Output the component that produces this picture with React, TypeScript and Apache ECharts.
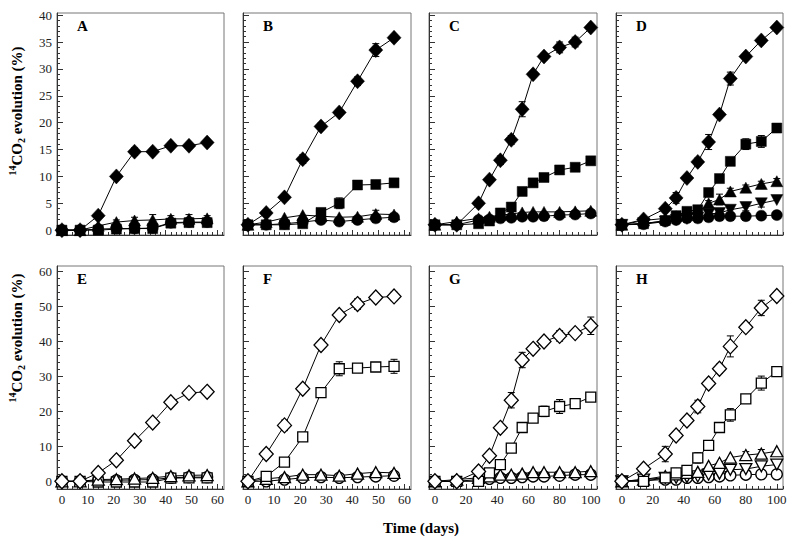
import React, { useEffect, useRef } from 'react';
import * as echarts from 'echarts';

const FONT = "'Liberation Serif', 'Times New Roman', serif";

// ---- time points (days) ----
const tShort = [0, 7, 14, 21, 28, 35, 42, 49, 56];
const tLong = [0, 14, 28, 35, 42, 49, 56, 63, 70, 80, 90, 100];

// ---- tick labels ----
const xShortTicks = [0, 10, 20, 30, 40, 50, 60];
const xLongTicks = [0, 20, 40, 60, 80, 100];
const yTopTicks = [0, 5, 10, 15, 20, 25, 30, 35, 40];
const yBottomTicks = [0, 10, 20, 30, 40, 50, 60];

// ---- Panel A ----
const aDiamond = [0, 0, 2.7, 10, 14.6, 14.6, 15.7, 15.7, 16.3];
const aDiamondErr = [0, 0, 0.4, 0.5, 0.7, 0.4, 0.3, 0.3, 0.3];
const aSquare = [0, 0, 0, 0.2, 0.3, 0.3, 1.3, 1.4, 1.4];
const aTriangle = [0, 0, 0.8, 1.5, 1.8, 1.9, 2.1, 2.1, 2.2];
const aTriangleErr = [0, 0, 0, 0.4, 0.6, 1.0, 0.6, 0.8, 0.5];
const aCircle = [0, 0, 0.2, 0.3, 0.3, 0.4, 1.4, 1.5, 1.5];

// ---- Panel B ----
const bDiamond = [1, 3.2, 6.1, 13.2, 19.3, 21.9, 27.7, 33.5, 35.8];
const bDiamondErr = [0, 0.3, 0.3, 0.8, 0.6, 0.5, 0.8, 1.2, 0.5];
const bSquare = [1, 1, 1, 1.2, 3.3, 5, 8.4, 8.5, 8.8];
const bSquareErr = [0, 0, 0, 0, 0.4, 1.0, 0.3, 0.3, 0.3];
const bTriangle = [1, 1.5, 2.3, 2.8, 2.6, 2.4, 2.5, 3.0, 2.9];
const bTriangleErr = [0, 0, 0, 0, 0, 0, 0, 0.7, 0];
const bCircle = [1, 1, 1.2, 1.5, 1.9, 1.6, 1.9, 2.2, 2.4];

// ---- Panel C ----
const cDiamond = [1, 1, 5, 9.4, 13, 16.8, 22.5, 29, 32.3, 34, 35, 37.7];
const cDiamondErr = [0, 0, 0.5, 0, 0.8, 0.8, 1.4, 0.5, 0.6, 1.0, 0.9, 0.5];
const cSquare = [1, 1, 1.2, 1.7, 3.2, 4.3, 7.2, 8.8, 9.8, 11.2, 11.7, 12.9];
const cSquareErr = [0, 0, 0, 0, 0, 0, 0.6, 0.3, 0.6, 0.5, 0.5, 0.7];
const cTriangle = [1, 1.6, 2.2, 2.5, 2.8, 3, 3.3, 3.4, 3.4, 3.4, 3.5, 3.6];
const cCircle = [1, 1, 1.9, 2, 2.2, 2.3, 2.5, 2.5, 2.6, 2.8, 2.9, 3.1];

// ---- Panel D ----
const dDiamond = [1, 2, 4, 6, 9.7, 12.7, 16.4, 21.5, 28.2, 32.3, 35.3, 37.7];
const dDiamondErr = [0, 0, 0.5, 1.0, 0.5, 0.7, 1.4, 0.6, 1.2, 0.5, 0.5, 0.3];
const dSquare = [1, 1.2, 1.8, 2.7, 3.5, 3.8, 7, 9.6, 12.8, 16, 16.5, 19];
const dSquareErr = [0, 0, 0, 0, 0, 0.5, 0, 0.5, 0.6, 1.0, 1.1, 0.8];
const dTriangle = [1, 1.8, 2.2, 2.6, 2.8, 3.2, 5, 5.7, 7.2, 7.9, 8.6, 9.1];
const dTriangleErr = [0, 0, 0, 0, 0, 0, 0.5, 1.0, 0.6, 0.5, 0.5, 0.5];
const dDown = [1, 1.3, 1.6, 1.9, 2.1, 2.3, 3, 3.2, 3.8, 4.3, 5, 5.6];
const dDownErr = [0, 0, 0, 0, 0, 0, 0, 0, 0.5, 0.7, 0.7, 0];
const dCircle = [1, 1.1, 1.6, 1.9, 2.2, 2.2, 2.4, 2.6, 2.6, 2.6, 2.7, 2.8];

// ---- Panel E ----
const eDiamond = [0, 0, 2.4, 6, 11.6, 16.8, 22.6, 25.3, 25.6];
const eSquare = [0, 0, -0.2, -0.2, -0.2, -0.2, 0.9, 1, 1];
const eTriangle = [0, 0, 0.5, 0.6, 0.8, 1, 1.5, 1.7, 1.8];
const eTriangleErr = [0, 0, 0, 0, 0, 0, 0.5, 0.5, 0.5];
const eCircle = [0, 0, 0.3, 0.3, 0.4, 0.5, 1, 1.2, 1.2];

// ---- Panel F ----
const fDiamond = [0, 7.8, 16, 26.5, 39, 47.6, 50.7, 52.6, 52.9];
const fDiamondErr = [0, 0, 1.5, 0, 0, 0, 1.5, 1.0, 1.2];
const fSquare = [0, 1.4, 5.5, 12.7, 25.4, 32.2, 32.4, 32.7, 32.9];
const fSquareErr = [0, 0, 0, 0, 0, 2.0, 0, 0, 2.0];
const fTriangle = [0, 0.7, 1.2, 1.9, 1.9, 1.6, 2.2, 2.6, 2.4];
const fCircle = [0, 0, 0.5, 1, 1.2, 1, 1.2, 1.4, 1.6];

// ---- Panel G ----
const gDiamond = [0, 0, 2.8, 7.3, 15.3, 23.2, 34.7, 37.9, 40, 41.6, 42.4, 44.5];
const gDiamondErr = [0, 0, 0, 0, 0, 2.2, 2.2, 1.0, 1.0, 1.5, 1.0, 2.5];
const gSquare = [0, 0, 0, 2.4, 4.8, 9.5, 15.4, 18.1, 20, 21.4, 22.2, 24.1];
const gSquareErr = [0, 0, 0, 0, 0, 0, 1.3, 0, 1.5, 2.0, 1.0, 1.2];
const gTriangle = [0, 0.5, 1, 1.4, 1.9, 1.9, 2.2, 2.6, 2.6, 2.6, 2.6, 2.9];
const gCircle = [0, 0, 0.5, 0.7, 1, 1, 1.2, 1.4, 1.4, 1.6, 1.9, 1.9];

// ---- Panel H ----
const hDiamond = [0, 3.6, 7.8, 13.1, 17.4, 21.4, 28, 32.2, 38.6, 44.1, 49.6, 53];
const hDiamondErr = [0, 0, 2.2, 0, 0, 1.8, 0, 1.3, 3.0, 0, 2.2, 1.0];
const hSquare = [0, 0, 1, 2.4, 3.1, 6.7, 10.3, 15.4, 19, 23.6, 28.1, 31.4];
const hSquareErr = [0, 0, 0, 0, 0, 1.5, 0, 0, 1.8, 0, 2.0, 0];
const hTriangle = [0, 0.5, 1.5, 2, 2.4, 2.7, 4.4, 5.3, 6.8, 7.5, 7.9, 8.6];
const hTriangleErr = [0, 0, 0, 0, 0, 0, 0, 0, 0, 1.0, 1.2, 0];
const hDown = [0, 0.5, 1, 1, 1.2, 1.4, 1.9, 2.2, 3.3, 3.5, 4.3, 4.8];
const hDownErr = [0, 0, 0, 0, 0, 0, 0, 0, 0, 0.8, 0, 0];
const hCircle = [0, 0.2, 0.5, 0.5, 1, 1, 1.2, 1.4, 1.7, 1.9, 2.0, 2.0];

type Kind = 'diamond' | 'square' | 'triangle' | 'down' | 'circle';
type Curve = { kind: Kind; values: number[]; err?: number[] };
type Panel = { label: string; t: number[]; curves: Curve[] };

const panels: Panel[] = [
  { label: 'A', t: tShort, curves: [
    { kind: 'circle', values: aCircle },
    { kind: 'square', values: aSquare },
    { kind: 'triangle', values: aTriangle, err: aTriangleErr },
    { kind: 'diamond', values: aDiamond, err: aDiamondErr },
  ] },
  { label: 'B', t: tShort, curves: [
    { kind: 'circle', values: bCircle },
    { kind: 'triangle', values: bTriangle, err: bTriangleErr },
    { kind: 'square', values: bSquare, err: bSquareErr },
    { kind: 'diamond', values: bDiamond, err: bDiamondErr },
  ] },
  { label: 'C', t: tLong, curves: [
    { kind: 'triangle', values: cTriangle },
    { kind: 'circle', values: cCircle },
    { kind: 'square', values: cSquare, err: cSquareErr },
    { kind: 'diamond', values: cDiamond, err: cDiamondErr },
  ] },
  { label: 'D', t: tLong, curves: [
    { kind: 'down', values: dDown, err: dDownErr },
    { kind: 'triangle', values: dTriangle, err: dTriangleErr },
    { kind: 'circle', values: dCircle },
    { kind: 'square', values: dSquare, err: dSquareErr },
    { kind: 'diamond', values: dDiamond, err: dDiamondErr },
  ] },
  { label: 'E', t: tShort, curves: [
    { kind: 'circle', values: eCircle },
    { kind: 'square', values: eSquare },
    { kind: 'triangle', values: eTriangle, err: eTriangleErr },
    { kind: 'diamond', values: eDiamond },
  ] },
  { label: 'F', t: tShort, curves: [
    { kind: 'circle', values: fCircle },
    { kind: 'triangle', values: fTriangle },
    { kind: 'square', values: fSquare, err: fSquareErr },
    { kind: 'diamond', values: fDiamond, err: fDiamondErr },
  ] },
  { label: 'G', t: tLong, curves: [
    { kind: 'circle', values: gCircle },
    { kind: 'triangle', values: gTriangle },
    { kind: 'square', values: gSquare, err: gSquareErr },
    { kind: 'diamond', values: gDiamond, err: gDiamondErr },
  ] },
  { label: 'H', t: tLong, curves: [
    { kind: 'circle', values: hCircle },
    { kind: 'down', values: hDown, err: hDownErr },
    { kind: 'triangle', values: hTriangle, err: hTriangleErr },
    { kind: 'square', values: hSquare, err: hSquareErr },
    { kind: 'diamond', values: hDiamond, err: hDiamondErr },
  ] },
];

// ---- layout ----
const COL_LEFT = [57, 243, 429, 616];
const COL_W = [167, 168, 168, 167];
const ROW_TOP = [13, 266];
const ROW_H = [222, 223];
const X_SHORT_RANGE = [-1.9, 62.5];
const X_LONG_RANGE = [-3.8, 104];
const Y_TOP_RANGE = [-0.9, 40.4];
const Y_BOTTOM_RANGE = [-2.2, 61.6];

function stepTicks(lo: number, hi: number, step: number): number[] {
  const out: number[] = [];
  for (let v = Math.ceil(lo / step) * step; v <= hi + 1e-9; v += step) out.push(Math.round(v * 1000) / 1000);
  return out;
}

const symbolFor: Record<Kind, { symbol: string; size: number | number[]; rotate: number }> = {
  diamond: { symbol: 'diamond', size: [14, 15], rotate: 0 },
  square: { symbol: 'rect', size: 10, rotate: 0 },
  triangle: { symbol: 'triangle', size: [12, 11], rotate: 0 },
  down: { symbol: 'triangle', size: [12, 11], rotate: 180 },
  circle: { symbol: 'circle', size: 11, rotate: 0 },
};

function errorRender(params: any, api: any) {
  const x = api.value(0);
  const lo = api.coord([x, api.value(1)]);
  const hi = api.coord([x, api.value(2)]);
  const w = 3.5;
  const st = { stroke: '#000', lineWidth: 1 };
  return {
    type: 'group',
    children: [
      { type: 'line', shape: { x1: lo[0], y1: lo[1], x2: hi[0], y2: hi[1] }, style: st },
      { type: 'line', shape: { x1: lo[0] - w, y1: lo[1], x2: lo[0] + w, y2: lo[1] }, style: st },
      { type: 'line', shape: { x1: hi[0] - w, y1: hi[1], x2: hi[0] + w, y2: hi[1] }, style: st },
    ],
  };
}

function buildOption() {
  const grids: any[] = [];
  const xAxes: any[] = [];
  const yAxes: any[] = [];
  const series: any[] = [];
  const graphics: any[] = [];

  panels.forEach((p, i) => {
    const row = i < 4 ? 0 : 1;
    const col = i % 4;
    const filled = row === 0;
    const long = p.t === tLong;
    const xr = long ? X_LONG_RANGE : X_SHORT_RANGE;
    const yr = row === 0 ? Y_TOP_RANGE : Y_BOTTOM_RANGE;
    const xMajor = long ? xLongTicks : xShortTicks;
    const xMinor = stepTicks(0, xr[1], long ? 4 : 2);
    const yMajor = row === 0 ? yTopTicks : yBottomTicks;
    const yMinor = stepTicks(0, yr[1], row === 0 ? 1 : 2);

    grids.push({
      left: COL_LEFT[col], top: ROW_TOP[row], width: COL_W[col], height: ROW_H[row],
      show: true, borderColor: '#777', borderWidth: 1, backgroundColor: 'transparent',
    });

    const xi = xAxes.length;
    xAxes.push({
      type: 'value', gridIndex: i, min: xr[0], max: xr[1], position: 'bottom',
      splitLine: { show: false },
      axisLine: { show: true, onZero: false, lineStyle: { color: '#333', width: 1 } },
      axisTick: { show: true, inside: true, length: 5, customValues: xMajor, lineStyle: { color: '#333' } },
      axisLabel: { show: row === 1, customValues: xMajor, margin: 4, fontFamily: FONT, fontSize: 13, color: '#222' },
    });
    xAxes.push({
      type: 'value', gridIndex: i, min: xr[0], max: xr[1], position: 'bottom',
      splitLine: { show: false },
      axisLine: { show: false, onZero: false },
      axisTick: { show: true, inside: true, length: 3, customValues: xMinor, lineStyle: { color: '#333' } },
      axisLabel: { show: false, customValues: xMinor },
    });
    const yi = yAxes.length;
    yAxes.push({
      type: 'value', gridIndex: i, min: yr[0], max: yr[1], position: 'left',
      splitLine: { show: false },
      axisLine: { show: true, onZero: false, lineStyle: { color: '#333', width: 1 } },
      axisTick: { show: true, inside: true, length: 6, customValues: yMajor, lineStyle: { color: '#333' } },
      axisLabel: { show: col === 0, customValues: yMajor, margin: 5, fontFamily: FONT, fontSize: 13, color: '#222' },
    });
    yAxes.push({
      type: 'value', gridIndex: i, min: yr[0], max: yr[1], position: 'left',
      splitLine: { show: false },
      axisLine: { show: false, onZero: false },
      axisTick: { show: true, inside: true, length: 3, customValues: yMinor, lineStyle: { color: '#333' } },
      axisLabel: { show: false, customValues: yMinor },
    });

    // error bars
    const errData: number[][] = [];
    p.curves.forEach((c) => {
      if (!c.err) return;
      c.err.forEach((e, k) => {
        if (e > 0) errData.push([p.t[k], c.values[k] - e, c.values[k] + e]);
      });
    });
    if (errData.length) {
      series.push({
        type: 'custom', xAxisIndex: xi, yAxisIndex: yi, data: errData,
        encode: { x: 0, y: [1, 2] }, renderItem: errorRender, z: 1, silent: true, clip: false,
      });
    }
    // lines
    p.curves.forEach((c) => {
      series.push({
        type: 'line', xAxisIndex: xi, yAxisIndex: yi,
        data: p.t.map((t, k) => [t, c.values[k]]),
        showSymbol: false, symbol: 'none', lineStyle: { color: '#000', width: 1 },
        z: 2, silent: true, clip: false,
      });
    });
    // markers
    p.curves.forEach((c) => {
      const s = symbolFor[c.kind];
      series.push({
        type: 'scatter', xAxisIndex: xi, yAxisIndex: yi,
        data: p.t.map((t, k) => [t, c.values[k]]),
        symbol: s.symbol, symbolSize: s.size, symbolRotate: s.rotate,
        itemStyle: filled
          ? { color: '#000', borderColor: '#000', borderWidth: 0.5, opacity: 1 }
          : { color: '#fff', borderColor: '#000', borderWidth: 1.3, opacity: 1 },
        z: 3, silent: true, clip: false,
      });
    });

    graphics.push({
      type: 'text', x: COL_LEFT[col] + 20, y: ROW_TOP[row] + 12.5,
      style: { text: p.label, fontFamily: FONT, fontWeight: 'bold', fontSize: 15, fill: '#000', align: 'left', verticalAlign: 'middle' },
    });
  });

  const yNameRich = {
    m: { fontFamily: FONT, fontWeight: 'bold', fontSize: 15, lineHeight: 19, verticalAlign: 'middle', fill: '#000' },
    sup: { fontFamily: FONT, fontWeight: 'bold', fontSize: 10, lineHeight: 19, verticalAlign: 'top', fill: '#000' },
    sub: { fontFamily: FONT, fontWeight: 'bold', fontSize: 10, lineHeight: 19, verticalAlign: 'bottom', fill: '#000' },
  };
  [111, 338].forEach((cy) => {
    graphics.push({
      type: 'text', x: 17, y: cy, rotation: Math.PI / 2,
      style: {
        text: '{sup|14}{m|CO}{sub|2}{m| evolution (%)}', rich: yNameRich,
        align: 'center', verticalAlign: 'middle', fill: '#000',
      },
    });
  });
  graphics.push({
    type: 'text', x: 421, y: 528,
    style: { text: 'Time (days)', fontFamily: FONT, fontWeight: 'bold', fontSize: 15, fill: '#000', align: 'center', verticalAlign: 'middle' },
  });

  return {
    animation: false,
    backgroundColor: '#fff',
    grid: grids,
    xAxis: xAxes,
    yAxis: yAxes,
    series,
    graphic: graphics,
  };
}

export default function App() {
  const ref = useRef<HTMLDivElement>(null);
  useEffect(() => {
    if (!ref.current) return;
    const chart = echarts.init(ref.current, null, { renderer: 'svg' });
    chart.setOption(buildOption() as any);
    return () => chart.dispose();
  }, []);
  return (
    <div
      ref={ref}
      style={{ position: 'absolute', left: 0, top: 0, width: 800, height: 550, background: '#fff' }}
    />
  );
}
